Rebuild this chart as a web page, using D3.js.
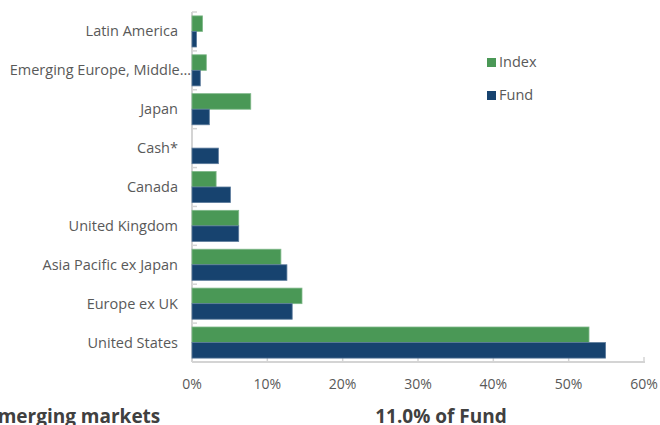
<!DOCTYPE html>
<html lang="en">
    <head>
        <meta charset="utf-8">
        <title>Regional allocation: Fund vs Index</title>
        <script type="text/javascript" src="https://cdn.jsdelivr.net/npm/d3@7"></script>
        <style type="text/css">
            body { margin: 0; background: #fff; }
            text { font-family: "Open Sans", "Noto Sans", sans-serif; }
        </style>
    </head>

    <body>
        <script type="text/javascript">
            // Data (percent of portfolio)
            var regions = ["Latin America", "Emerging Europe, Middle\u2026", "Japan", "Cash*", "Canada",
                           "United Kingdom", "Asia Pacific ex Japan", "Europe ex UK", "United States"];
            var indexWeights = [1.4, 1.9, 7.8, 0, 3.2, 6.2, 11.8, 14.6, 52.7];
            var fundWeights  = [0.6, 1.1, 2.3, 3.5, 5.1, 6.2, 12.6, 13.3, 54.9];
            var seriesNames = ["Index", "Fund"];
            var xTicks = [0, 10, 20, 30, 40, 50, 60];

            var w = 660;
            var h = 425;
            var colors = { "Index": "#4a9856", "Fund": "#17436f" };
            var strokes = { "Index": "#7fb889", "Fund": "#5b7a9b" };
            var axisColor = "#d4d4d4";
            var textColor = "#595959";

            var svg = d3.select("body")
                        .append("svg")
                        .attr("width", w)
                        .attr("height", h);

            // Plot area (note: "top" is reserved on window, so use plot* names)
            var plotLeft = 192, plotRight = 644, plotTop = 12, plotBottom = 362;

            var xScale = d3.scaleLinear()
                            .domain([0, 60])
                            .range([plotLeft, plotRight]);
            var yScale = d3.scaleBand()
                            .domain(regions)
                            .range([plotTop, plotBottom])
                            .paddingInner(0.2)
                            .paddingOuter(0.1);
            var subScale = d3.scaleBand()
                            .domain(seriesNames)
                            .range([0, yScale.bandwidth()]);

            // Axes lines
            svg.append("line")
                .attr("x1", plotLeft).attr("x2", plotLeft)
                .attr("y1", plotTop).attr("y2", plotBottom)
                .attr("stroke", axisColor).attr("stroke-width", 2);
            svg.append("line")
                .attr("x1", plotLeft).attr("x2", plotRight + 1)
                .attr("y1", plotBottom).attr("y2", plotBottom)
                .attr("stroke", axisColor).attr("stroke-width", 2);

            // Category boundary ticks on the y axis
            var boundaries = d3.range(regions.length + 1).map(function(i) {
                return plotTop + i * (plotBottom - plotTop) / regions.length;
            });
            svg.selectAll("line.ytick")
                .data(boundaries)
                .enter()
                .append("line")
                .attr("class", "ytick")
                .attr("x1", plotLeft).attr("x2", plotLeft + 5)
                .attr("y1", function(d) { return d; })
                .attr("y2", function(d) { return d; })
                .attr("stroke", axisColor).attr("stroke-width", 1.5);

            // x ticks
            svg.selectAll("line.xtick")
                .data(xTicks)
                .enter()
                .append("line")
                .attr("class", "xtick")
                .attr("x1", function(d) { return xScale(d); })
                .attr("x2", function(d) { return xScale(d); })
                .attr("y1", plotBottom).attr("y2", plotBottom - 5)
                .attr("stroke", axisColor).attr("stroke-width", 1.5);

            svg.selectAll("text.xlabel")
                .data(xTicks)
                .enter()
                .append("text")
                .attr("class", "xlabel")
                .attr("x", function(d) { return xScale(d); })
                .attr("y", 389)
                .attr("text-anchor", "middle")
                .attr("font-size", "14px")
                .attr("fill", textColor)
                .text(function(d) { return d + "%"; });

            // Category labels
            svg.selectAll("text.ylabel")
                .data(regions)
                .enter()
                .append("text")
                .attr("class", "ylabel")
                .attr("x", function(d, i) { return i === 1 ? 191 : 178; })
                .attr("y", function(d) { return yScale(d) + yScale.bandwidth() / 2 + 5; })
                .attr("text-anchor", "end")
                .attr("font-size", "14.5px")
                .attr("fill", textColor)
                .text(function(d) { return d; });

            // Bars
            var rows = regions.map(function(r, i) {
                return [
                    { region: r, series: "Index", value: indexWeights[i] },
                    { region: r, series: "Fund", value: fundWeights[i] }
                ];
            });
            var flat = [].concat.apply([], rows).filter(function(d) { return d.value > 0; });

            svg.selectAll("rect.bar")
                .data(flat)
                .enter()
                .append("rect")
                .attr("class", "bar")
                .attr("x", xScale(0))
                .attr("y", function(d) { return yScale(d.region) + subScale(d.series); })
                .attr("width", function(d) { return xScale(d.value) - xScale(0); })
                .attr("height", subScale.bandwidth())
                .attr("fill", function(d) { return colors[d.series]; })
                .attr("stroke", function(d) { return strokes[d.series]; })
                .attr("stroke-width", 0.8);

            // Legend
            var legend = svg.selectAll("g.legend")
                .data(seriesNames)
                .enter()
                .append("g")
                .attr("class", "legend")
                .attr("transform", function(d, i) { return "translate(487," + (58 + i * 33) + ")"; });
            legend.append("rect")
                .attr("width", 9).attr("height", 9)
                .attr("fill", function(d) { return colors[d]; });
            legend.append("text")
                .attr("x", 12)
                .attr("y", 9)
                .attr("font-size", "14.5px")
                .attr("fill", textColor)
                .text(function(d) { return d; });

            // Footer texts (cut off in the source picture)
            svg.append("text")
                .attr("x", -13)
                .attr("y", 423)
                .attr("font-size", "19px")
                .attr("font-weight", "bold")
                .attr("fill", "#404040")
                .text("Emerging markets");
            svg.append("text")
                .attr("x", 441)
                .attr("y", 423)
                .attr("text-anchor", "middle")
                .attr("font-size", "19px")
                .attr("font-weight", "bold")
                .attr("fill", "#404040")
                .text("11.0% of Fund");
        </script>
    </body>
</html>
